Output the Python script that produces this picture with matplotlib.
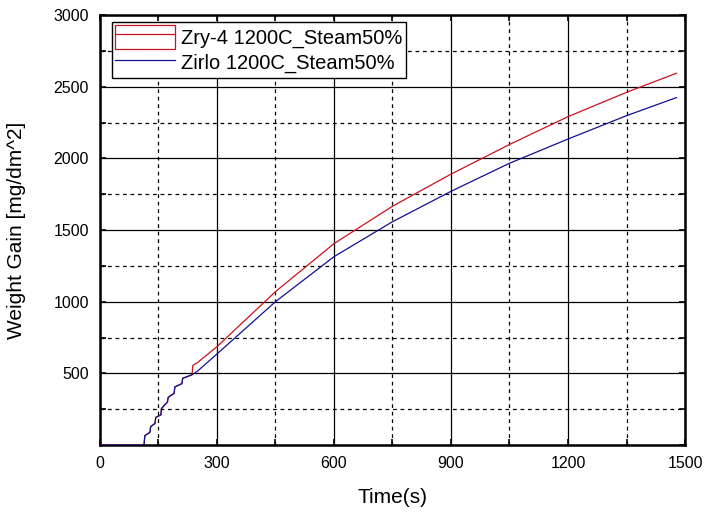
import matplotlib
matplotlib.use("Agg")
import matplotlib.pyplot as plt
from matplotlib.patches import Rectangle
from matplotlib.lines import Line2D
from matplotlib.legend_handler import HandlerTuple
from matplotlib.ticker import MultipleLocator

plt.rcParams['font.family'] = ['Liberation Sans', 'DejaVu Sans']

# Zry-4 1200C_Steam50%
zry_t = [0, 113, 115, 128, 130, 141, 143, 156, 158, 173, 175, 190, 192, 210, 212, 236,
         238, 250, 300, 450, 600, 750, 900, 1050, 1200, 1350, 1478]
zry_w = [0, 0, 65, 88, 128, 150, 192, 210, 255, 300, 333, 360, 405, 428, 465, 490,
         555, 575, 686, 1070, 1405, 1666, 1890, 2097, 2291, 2461, 2594]

# Zirlo 1200C_Steam50%
zirlo_t = [0, 113, 115, 128, 130, 141, 143, 156, 158, 173, 175, 190, 192, 210, 212, 236,
           250, 300, 450, 600, 750, 900, 1050, 1200, 1350, 1478]
zirlo_w = [0, 0, 65, 88, 128, 150, 192, 210, 255, 300, 333, 360, 405, 428, 465, 490,
           515, 635, 1000, 1314, 1558, 1770, 1966, 2135, 2298, 2424]

red = '#CC1020'
blue = '#101090'

fig = plt.figure(figsize=(7.10, 5.13), dpi=100)
ax = fig.add_axes([0.1408, 0.1326, 0.824, 0.838])

ax.plot(zry_t, zry_w, color=red, lw=0.9, zorder=3)
ax.plot(zirlo_t, zirlo_w, color=blue, lw=0.9, zorder=3)

ax.set_xlim(0, 1500)
ax.set_ylim(0, 3000)
ax.xaxis.set_major_locator(MultipleLocator(300))
ax.xaxis.set_minor_locator(MultipleLocator(150))
ax.set_yticks([500, 1000, 1500, 2000, 2500, 3000])
ax.yaxis.set_minor_locator(MultipleLocator(250))

ax.grid(which='major', color='black', lw=0.9, ls='-', zorder=1)
ax.grid(which='minor', color='black', lw=0.9, ls=(0, (3, 3)), zorder=1)
ax.set_axisbelow(True)

ax.tick_params(which='both', direction='in', top=True, right=True, length=4, width=1.2,
               labelsize=11.5, pad=8)
for s in ax.spines.values():
    s.set_linewidth(1.8)

ax.set_xlabel('Time(s)', fontsize=15, labelpad=12)
ax.set_ylabel('Weight Gain [mg/dm^2]', fontsize=15, labelpad=20)

h1 = (Rectangle((0, 0), 1, 1, facecolor='none', edgecolor=red, lw=0.9),
      Line2D([], [], color=red, lw=0.9))
h2 = Line2D([], [], color=blue, lw=0.9)
leg = ax.legend([h1, h2], ['Zry-4 1200C_Steam50%', 'Zirlo 1200C_Steam50%'],
                handler_map={tuple: HandlerTuple(ndivide=1)},
                loc='upper left', bbox_to_anchor=(0.02, 0.985), fontsize=14.5,
                frameon=True, fancybox=False, framealpha=1, edgecolor='black',
                handlelength=3.0, handleheight=1.5, handletextpad=0.3,
                borderpad=0.15, labelspacing=0.05, borderaxespad=0)
leg.get_frame().set_linewidth(1.0)

fig.savefig('out.png', dpi=100)
